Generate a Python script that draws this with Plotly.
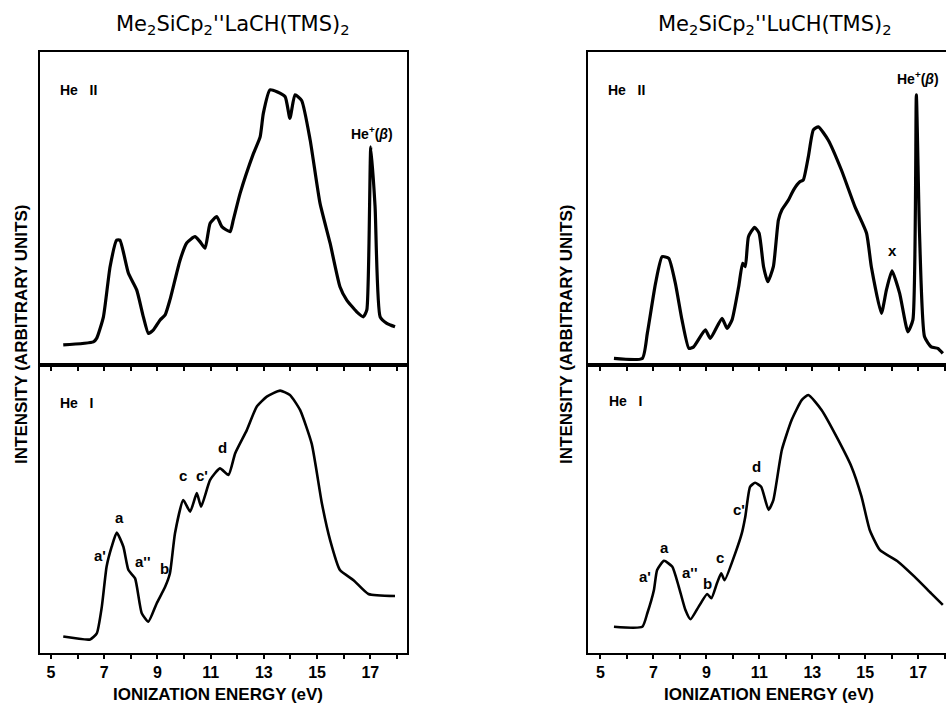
import plotly.graph_objects as go

# ---------------- data ----------------
la_he2_ev = [5.46, 6.59, 6.72, 6.97, 7.22, 7.47, 7.59, 7.91, 8.22, 8.47, 8.66, 8.85, 9.10, 9.29,
             9.47, 9.85, 10.10, 10.41, 10.60, 10.79, 10.98, 11.23, 11.42, 11.73, 11.85, 12.11,
             12.61, 12.86, 12.98, 13.23, 13.49, 13.80, 13.98, 14.17, 14.42, 14.74, 15.11, 15.49,
             15.86, 16.11, 16.49, 16.74, 16.87, 17.02, 17.18, 17.37, 17.62, 17.93]
la_he2_int = [6.4, 7.4, 8.6, 15.4, 31.4, 39.9, 39.9, 29.3, 24.0, 15.4, 10.1, 11.2, 14.4, 16.0,
              20.8, 33.5, 39.0, 41.0, 39.4, 37.3, 45.3, 47.4, 44.2, 42.6, 46.3, 54.9,
              67.6, 72.9, 80.4, 87.9, 87.3, 85.7, 78.8, 86.3, 84.5, 71.9, 51.7, 38.9,
              25.0, 20.8, 17.0, 15.4, 17.6, 69.7, 50.6, 15.4, 13.3, 12.2]

la_he1_ev = [5.46, 6.47, 6.72, 6.91, 7.09, 7.28, 7.47, 7.72, 7.91, 8.16, 8.41, 8.66, 8.97, 9.29,
             9.47, 9.66, 9.97, 10.23, 10.48, 10.64, 10.98, 11.35, 11.67, 11.92, 12.36, 12.73,
             13.11, 13.61, 13.98, 14.36, 14.80, 15.18, 15.49, 15.86, 16.37, 16.93, 17.93]
la_he1_int = [5.7, 4.7, 6.8, 16.1, 30.0, 36.9, 41.8, 36.9, 28.8, 25.9, 13.8, 10.9, 17.2, 23.0,
              27.7, 41.6, 53.1, 49.1, 55.5, 50.8, 60.1, 64.1, 61.8, 69.3, 77.4, 85.5,
              89.0, 91.1, 89.6, 84.4, 72.6, 52.0, 39.2, 28.8, 25.3, 20.5, 19.8]

lu_he2_ev = [5.51, 6.58, 6.77, 7.08, 7.33, 7.58, 7.83, 8.08, 8.34, 8.52, 8.96, 9.15, 9.59, 9.78,
             9.97, 10.22, 10.37, 10.47, 10.59, 10.82, 10.99, 11.16, 11.32, 11.53, 11.72, 11.85,
             12.10, 12.29, 12.54, 12.66, 12.85, 13.04, 13.23, 13.60, 14.10, 14.61, 15.05, 15.23,
             15.61, 15.80, 16.01, 16.30, 16.61, 16.80, 16.93, 17.05, 17.24, 17.49, 17.74, 17.93]
lu_he2_int = [2.1, 2.1, 10.1, 26.1, 34.6, 34.1, 26.1, 14.4, 5.3, 5.8, 11.2, 8.5, 14.9, 11.7,
              14.4, 25.0, 32.5, 31.4, 41.0, 44.0, 42.1, 31.4, 26.6, 31.4, 46.3, 49.5,
              52.7, 55.9, 58.6, 59.1, 66.5, 75.1, 76.1, 71.9, 62.3, 50.6, 42.1, 31.4,
              16.5, 24.0, 30.1, 22.9, 10.6, 14.4, 86.3, 42.1, 9.0, 5.8, 5.3, 3.7]

lu_he1_ev = [5.51, 6.58, 6.77, 7.02, 7.14, 7.40, 7.71, 7.96, 8.21, 8.40, 8.71, 9.03, 9.19, 9.40,
             9.56, 9.69, 10.09, 10.34, 10.47, 10.65, 10.84, 11.07, 11.35, 11.53, 11.85, 12.22,
             12.60, 12.85, 13.35, 13.98, 14.48, 14.86, 15.17, 15.55, 16.24, 16.86, 17.49, 17.93]
lu_he1_int = [9.1, 9.1, 13.8, 21.9, 28.8, 32.0, 30.0, 23.0, 14.9, 11.7, 16.1, 20.5, 19.0, 24.2,
              27.7, 25.3, 34.6, 41.6, 47.3, 57.7, 59.1, 57.7, 49.7, 53.1, 70.5, 80.9,
              87.8, 89.6, 84.4, 74.0, 64.7, 54.3, 42.7, 35.8, 31.7, 26.5, 20.7, 16.7]

major_ticks = [5, 7, 9, 11, 13, 15, 17]
major_text = ["5", "7", "9", "11", "13", "15", "17"]
minor_ticks = [6, 8, 10, 12, 14, 16, 18]

titles = ["Me<sub>2</sub>SiCp<sub>2</sub>''LaCH(TMS)<sub>2</sub>",
          "Me<sub>2</sub>SiCp<sub>2</sub>''LuCH(TMS)<sub>2</sub>"]
x_title = "IONIZATION ENERGY (eV)"
y_title = "INTENSITY (ARBITRARY UNITS)"

# ---------------- figure ----------------
W, H = 946, 704
BOLD = "Liberation Sans"
fig = go.Figure()

line_up = dict(color="black", width=3.2, shape="spline", smoothing=0.5)
line_lo = dict(color="black", width=2.6, shape="spline", smoothing=0.5)

fig.add_trace(go.Scatter(x=la_he2_ev, y=la_he2_int, mode="lines", line=line_up, xaxis="x", yaxis="y"))
fig.add_trace(go.Scatter(x=la_he1_ev, y=la_he1_int, mode="lines", line=line_lo, xaxis="x2", yaxis="y2"))
fig.add_trace(go.Scatter(x=lu_he2_ev, y=lu_he2_int, mode="lines", line=line_up, xaxis="x3", yaxis="y3"))
fig.add_trace(go.Scatter(x=lu_he1_ev, y=lu_he1_int, mode="lines", line=line_lo, xaxis="x4", yaxis="y4"))

up_dom = [1 - 365 / H, 1 - 52 / H]
lo_dom = [1 - 653 / H, 1 - 365 / H]
left_dom = [40 / W, 407 / W]
right_dom = [588 / W, 1.0]
left_rng = [4.586, 18.38]
right_rng = [4.53, 18.05]

def xax(dom, rng, anchor, labels):
    return dict(domain=dom, range=rng, anchor=anchor, showline=True, linecolor="black",
                linewidth=2, mirror=True, ticks="outside", ticklen=4, tickwidth=1.5,
                tickcolor="black", tickmode="array", tickvals=major_ticks, ticktext=major_text,
                minor=dict(tickmode="array", tickvals=minor_ticks, ticks="outside", ticklen=4,
                           tickwidth=1.5, tickcolor="black", showgrid=False),
                showticklabels=labels, showgrid=False, zeroline=False,
                tickfont=dict(family=BOLD, size=16, color="black", weight="bold"))

def yax(dom, anchor, mirror):
    return dict(domain=dom, range=[0, 100], anchor=anchor, showline=True, linecolor="black",
                linewidth=2, mirror=mirror, ticks="", showticklabels=False,
                showgrid=False, zeroline=False)

fig.update_layout(
    width=W, height=H, margin=dict(l=0, r=0, t=0, b=0),
    paper_bgcolor="white", plot_bgcolor="white", showlegend=False,
    xaxis=xax(left_dom, left_rng, "y", False),
    yaxis=yax(up_dom, "x", True),
    xaxis2=xax(left_dom, left_rng, "y2", True),
    yaxis2=yax(lo_dom, "x2", True),
    xaxis3=xax(right_dom, right_rng, "y3", False),
    yaxis3=yax(up_dom, "x3", False),
    xaxis4=xax(right_dom, right_rng, "y4", True),
    yaxis4=yax(lo_dom, "x4", False),
)

ann = []
# titles
for cx, t in ((233, titles[0]), (775, titles[1])):
    ann.append(dict(text=t, x=cx / W, y=1 - 25 / H, xref="paper", yref="paper",
                    showarrow=False, xanchor="center", yanchor="middle",
                    font=dict(family="DejaVu Sans", size=21, color="black")))
# axis titles
for cx in (218, 769):
    ann.append(dict(text="<b>" + x_title + "</b>", x=cx / W, y=1 - 694 / H, xref="paper", yref="paper",
                    showarrow=False, xanchor="center", yanchor="middle",
                    font=dict(family=BOLD, size=17, color="black")))
for cx in (21, 566):
    ann.append(dict(text="<b>" + y_title + "</b>", x=cx / W, y=1 - 335 / H, xref="paper", yref="paper",
                    showarrow=False, xanchor="center", yanchor="middle", textangle=-90,
                    font=dict(family=BOLD, size=17, color="black")))

small = dict(family=BOLD, size=14, color="black")
lab = dict(family=BOLD, size=15, color="black")

def a(x, y, t, xr, yr, font, xanchor="center"):
    ann.append(dict(text="<b>" + t + "</b>", x=x, y=y, xref=xr, yref=yr, showarrow=False,
                    xanchor=xanchor, yanchor="middle", font=font))

# panel labels
a(5.28, 87.9, "He&nbsp;&nbsp;&nbsp;II", "x", "y", small, "left")
a(5.26, 86.8, "He&nbsp;&nbsp;&nbsp;I", "x2", "y2", small, "left")
a(5.20, 87.9, "He&nbsp;&nbsp;&nbsp;II", "x3", "y3", small, "left")
a(5.26, 87.5, "He&nbsp;&nbsp;&nbsp;I", "x4", "y4", small, "left")
a(17.07, 74.1, "He<sup>+</sup>(<i>β</i>)", "x", "y", small)
a(17.01, 91.7, "He<sup>+</sup>(<i>β</i>)", "x3", "y3", small)
a(16.02, 36.7, "x", "x3", "y3", lab)

# band labels, La
for (x, y, t) in [(7.56, 46.9, "a"), (6.84, 34.0, "a'"), (8.42, 31.6, "a''"), (9.25, 29.2, "b"),
                  (9.96, 61.8, "c"), (10.68, 61.8, "c'"), (11.43, 71.5, "d")]:
    a(x, y, t, "x2", "y2", lab)
# band labels, Lu
for (x, y, t) in [(7.42, 36.8, "a"), (6.70, 26.7, "a'"), (8.36, 28.1, "a''"), (9.04, 24.3, "b"),
                  (9.53, 33.3, "c"), (10.24, 49.7, "c'"), (10.88, 64.6, "d")]:
    a(x, y, t, "x4", "y4", lab)

fig.update_layout(annotations=ann)
fig.write_html("out.html", config={"displayModeBar": False},
               post_script="document.body.style.margin='0px';document.body.style.overflow='hidden';")
